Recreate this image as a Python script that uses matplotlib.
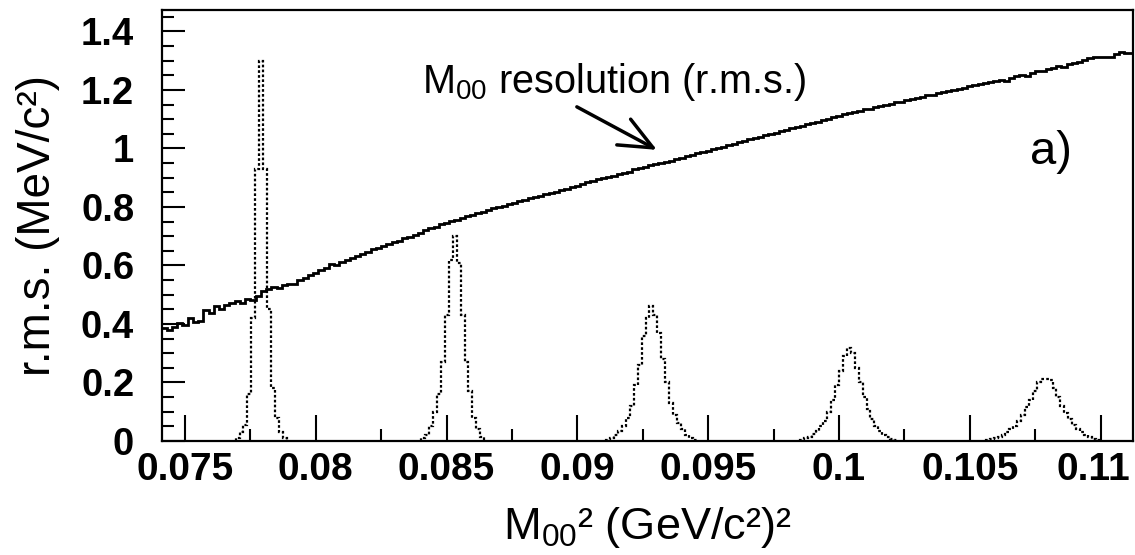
import numpy as np
import matplotlib
matplotlib.use("Agg")
import matplotlib.pyplot as plt
import matplotlib.transforms as mtransforms
from matplotlib.ticker import MultipleLocator, FixedLocator

plt.rcParams['font.family'] = ['Liberation Sans', 'DejaVu Sans']
plt.rcParams['mathtext.fontset'] = 'custom'
plt.rcParams['mathtext.rm'] = 'Liberation Sans'
plt.rcParams['mathtext.it'] = 'Liberation Sans'

# r.m.s. resolution of M00, one value per 0.0002 (GeV/c^2)^2 bin starting at 0.0741
res_start = 0.0741
res_width = 0.0002
resolution = [
    0.385, 0.378, 0.388, 0.403, 0.398, 0.422, 0.406, 0.410, 0.448, 0.438,
    0.462, 0.450, 0.466, 0.471, 0.478, 0.472, 0.486, 0.483, 0.497, 0.512,
    0.521, 0.526, 0.524, 0.533, 0.538, 0.536, 0.551, 0.558, 0.566, 0.574,
    0.586, 0.592, 0.604, 0.600, 0.612, 0.618, 0.626, 0.631, 0.640, 0.646,
    0.655, 0.661, 0.667, 0.672, 0.680, 0.684, 0.693, 0.697, 0.705, 0.711,
    0.720, 0.728, 0.732, 0.741, 0.745, 0.751, 0.757, 0.762, 0.768, 0.772,
    0.778, 0.784, 0.788, 0.795, 0.799, 0.804, 0.810, 0.812, 0.819, 0.823,
    0.829, 0.834, 0.838, 0.843, 0.849, 0.852, 0.858, 0.862, 0.868, 0.872,
    0.878, 0.884, 0.888, 0.894, 0.899, 0.903, 0.906, 0.912, 0.917, 0.921,
    0.928, 0.934, 0.937, 0.942, 0.948, 0.951, 0.955, 0.958, 0.963, 0.968,
    0.975, 0.979, 0.983, 0.988, 0.991, 0.998, 1.002, 1.006, 1.011, 1.016,
    1.022, 1.025, 1.031, 1.036, 1.039, 1.045, 1.049, 1.053, 1.060, 1.064,
    1.070, 1.073, 1.078, 1.084, 1.088, 1.091, 1.097, 1.101, 1.106, 1.111,
    1.116, 1.121, 1.124, 1.129, 1.133, 1.136, 1.141, 1.145, 1.148, 1.153,
    1.157, 1.160, 1.166, 1.168, 1.173, 1.176, 1.181, 1.184, 1.189, 1.192,
    1.196, 1.201, 1.203, 1.208, 1.212, 1.215, 1.221, 1.223, 1.227, 1.232,
    1.235, 1.231, 1.242, 1.246, 1.252, 1.249, 1.258, 1.263, 1.266, 1.270,
    1.275, 1.281, 1.279, 1.288, 1.292, 1.296, 1.301, 1.309, 1.313, 1.313,
    1.314, 1.314, 1.322, 1.330, 1.325, 1.327,
]

# reconstructed M00^2 distributions for five generated masses (0.00015 bins)
peak_width = 0.00015
peak_lo = [0.076935, 0.084035, 0.091105, 0.098505, 0.105615]
peak_1 = [0.01, 0.03, 0.055, 0.16, 0.42, 0.93, 1.30, 0.93, 0.45, 0.18, 0.08, 0.03, 0.01]
peak_2 = [0.01, 0.02, 0.05, 0.10, 0.16, 0.27, 0.43, 0.62, 0.70, 0.61, 0.43, 0.27,
          0.17, 0.08, 0.04, 0.015]
peak_3 = [0.005, 0.01, 0.02, 0.035, 0.05, 0.08, 0.12, 0.19, 0.26, 0.36, 0.42, 0.46,
          0.43, 0.37, 0.28, 0.20, 0.13, 0.09, 0.06, 0.04, 0.02, 0.01, 0.005]
peak_4 = [0.005, 0.01, 0.015, 0.025, 0.035, 0.05, 0.07, 0.10, 0.14, 0.19, 0.24, 0.29,
          0.318, 0.30, 0.25, 0.20, 0.15, 0.11, 0.075, 0.05, 0.035, 0.02, 0.012, 0.006,
          0.003]
peak_5 = [0.003, 0.006, 0.01, 0.015, 0.02, 0.03, 0.04, 0.05, 0.07, 0.09, 0.115, 0.14,
          0.17, 0.20, 0.212, 0.212, 0.21, 0.18, 0.15, 0.12, 0.095, 0.075, 0.055, 0.04,
          0.03, 0.02, 0.013, 0.008, 0.004]
peaks = [peak_1, peak_2, peak_3, peak_4, peak_5]

x_ticks = [0.075, 0.08, 0.085, 0.09, 0.095, 0.1, 0.105, 0.11]
x_tick_labels = ['0.075', '0.08', '0.085', '0.09', '0.095', '0.1', '0.105', '0.11']
y_ticks = [0, 0.2, 0.4, 0.6, 0.8, 1.0, 1.2, 1.4]
y_tick_labels = ['0', '0.2', '0.4', '0.6', '0.8', '1', '1.2', '1.4']

fig = plt.figure(figsize=(11.35, 5.55), dpi=100)
ax = fig.add_axes([162 / 1135, 114 / 555, 971 / 1135, 431 / 555])

res_edges = res_start + res_width * np.arange(len(resolution) + 1)
ax.stairs(resolution, res_edges, baseline=None, color='black', lw=2.0)

for lo, vals in zip(peak_lo, peaks):
    edges = lo + peak_width * np.arange(len(vals) + 1)
    ax.stairs(vals, edges, baseline=0, color='black', lw=1.6, linestyle=(0, (1.2, 1.0)))

ax.set_xlim(0.074121, 0.11124)
ax.set_ylim(0, 1.473)

ax.xaxis.set_major_locator(FixedLocator(x_ticks))
ax.set_xticklabels(x_tick_labels)
ax.xaxis.set_minor_locator(MultipleLocator(0.0025))
ax.yaxis.set_major_locator(FixedLocator(y_ticks))
ax.set_yticklabels(y_tick_labels)
ax.yaxis.set_minor_locator(MultipleLocator(0.05))

ax.tick_params(axis='x', which='major', direction='in', length=18.5, width=1.5,
               pad=8, labelsize=28)
ax.tick_params(axis='x', which='minor', direction='in', length=8.8, width=1.5)
ax.tick_params(axis='y', which='major', direction='in', length=16.5, width=1.5,
               pad=20, labelsize=27.5)
ax.tick_params(axis='y', which='minor', direction='in', length=8.8, width=1.5)
for lab in ax.get_xticklabels() + ax.get_yticklabels():
    lab.set_fontweight('bold')
# keep the last x label inside the canvas
last = ax.get_xticklabels()[-1]
last.set_transform(last.get_transform() +
                   mtransforms.ScaledTranslation(-5 / 72, 0, fig.dpi_scale_trans))
for sp in ax.spines.values():
    sp.set_linewidth(1.6)

ax.set_ylabel('r.m.s. (MeV/c²)', fontsize=33, labelpad=15)
ax.set_xlabel('M$_{00}$² (GeV/c²)²', fontsize=32.5, labelpad=12)

ax.text(0.08406, 1.19, 'M$_{00}$ resolution (r.m.s.)', fontsize=28.5, va='baseline', ha='left')
ax.annotate('', xy=(0.09304, 0.995), xytext=(0.08998, 1.142),
            arrowprops=dict(arrowstyle='->,head_length=0.8,head_width=0.35',
                            lw=2.5, color='black', mutation_scale=30,
                            shrinkA=0, shrinkB=0))
ax.text(0.1073, 0.988, 'a)', fontsize=34, va='center', ha='left')

fig.savefig('out.png', dpi=100)
